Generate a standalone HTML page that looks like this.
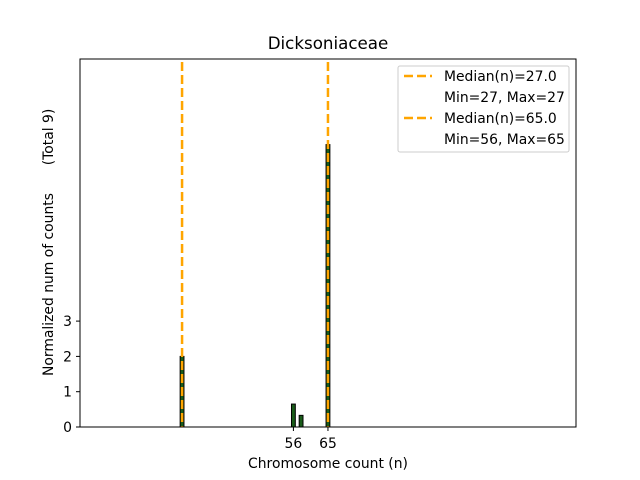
<!DOCTYPE html>
<html><head><meta charset="utf-8"><style>
body{margin:0;background:#fff;}
svg{display:block;font-family:"DejaVu Sans","Liberation Sans",sans-serif;}
</style></head><body>
<svg id="chart" width="640" height="480">
<rect x="0" y="0" width="640" height="480" fill="#fff"/>
<text x="328" y="49" font-size="16.7" text-anchor="middle">Dicksoniaceae</text>
<g id="plot"></g>
<rect x="80" y="59" width="496" height="368" fill="none" stroke="#000" stroke-width="1"/>
<text x="328" y="468" font-size="13.9" text-anchor="middle">Chromosome count (n)</text>
<text transform="translate(53,376) rotate(-90)" font-size="13.9" text-anchor="start">Normalized num of counts</text>
<text transform="translate(53,137) rotate(-90)" font-size="13.9" text-anchor="middle">(Total 9)</text>
<g>
<rect x="398" y="66" width="171" height="86" rx="2" fill="#fff" stroke="#ccc"/>
<line x1="404" y1="76" x2="432" y2="76" stroke="orange" stroke-width="2.5" stroke-dasharray="9,4"/>
<text x="444" y="81" font-size="13.9">Median(n)=27.0</text>
<text x="444" y="102" font-size="13.9">Min=27, Max=27</text>
<line x1="404" y1="118" x2="432" y2="118" stroke="orange" stroke-width="2.5" stroke-dasharray="9,4"/>
<text x="444" y="123" font-size="13.9">Median(n)=65.0</text>
<text x="444" y="144" font-size="13.9">Min=56, Max=65</text>
</g>
</svg>
<script>
const binValues = [27, 56, 58, 65];
const binCounts = [2, 0.65, 0.33, 8];
const medians = [27, 65];
const xTickValues = [56, 65];
const yTickValues = [0, 1, 2, 3];
const xMin = 0.42, xMax = 129.6, yPerUnit = 35.3;
function xs(v){return 80 + (v - xMin) / (xMax - xMin) * 496;}
function ys(v){return 427 - v * yPerUnit;}
const NS = "http://www.w3.org/2000/svg";
const g = document.getElementById('plot');
function mk(tag, attrs){const e=document.createElementNS(NS,tag);for(const k in attrs)e.setAttribute(k,attrs[k]);g.appendChild(e);return e;}
let l = mk('line',{x1:80,y1:427,x2:xs(31),y2:427,stroke:'#bbb','stroke-width':1});


const bw = xs(1) - xs(0);
binValues.forEach((v,i)=>{
  const r = mk('rect',{x:xs(v)-bw/2,y:ys(binCounts[i]),width:bw,height:ys(0)-ys(binCounts[i]),fill:'#1a5c1a',stroke:'#000','stroke-width':1});
  
  
});
medians.forEach(m=>{
  const ml = mk('line',{x1:xs(m),y1:62,x2:xs(m),y2:427,stroke:'orange','stroke-width':2.5,'stroke-dasharray':'9,4'});
  
  
});
xTickValues.forEach(v=>{
  const t = mk('line',{x1:xs(v),y1:427,x2:xs(v),y2:431,stroke:'#000'});
  
  
  const tx = mk('text',{x:xs(v),y:448,'font-size':13.9,'text-anchor':'middle'});
  tx.textContent = v;
  
  
});
yTickValues.forEach(v=>{
  const t = mk('line',{x1:76,y1:ys(v),x2:80,y2:ys(v),stroke:'#000'});
  
  
  const tx = mk('text',{x:72,y:ys(v)+5,'font-size':13.9,'text-anchor':'end'});
  tx.textContent = v;
  
  
});
</script>
</body></html>
